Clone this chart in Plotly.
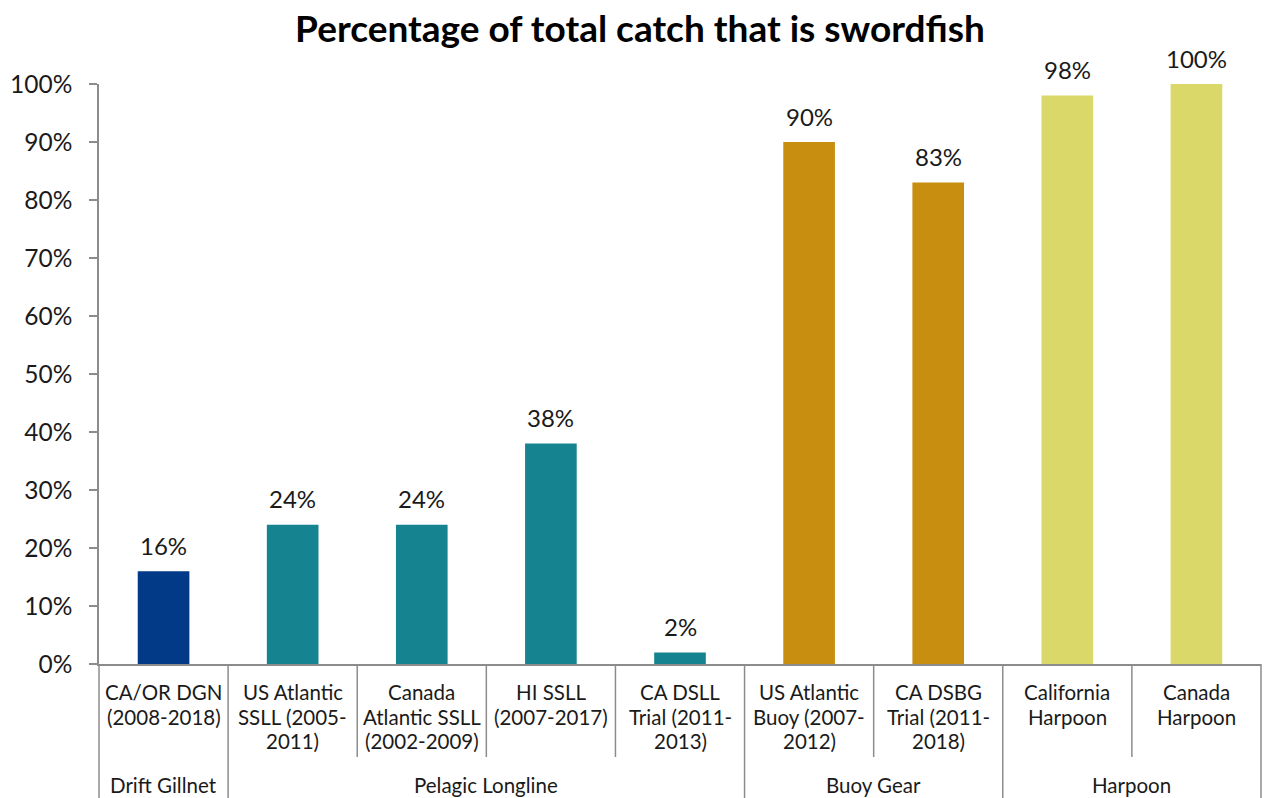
import plotly.graph_objects as go

categories = ["CA/OR DGN<br>(2008-2018)", "US Atlantic<br>SSLL (2005-<br>2011)",
              "Canada<br>Atlantic SSLL<br>(2002-2009)", "HI SSLL<br>(2007-2017)",
              "CA DSLL<br>Trial (2011-<br>2013)", "US Atlantic<br>Buoy (2007-<br>2012)",
              "CA DSBG<br>Trial (2011-<br>2018)", "California<br>Harpoon", "Canada<br>Harpoon"]
values = [16, 24, 24, 38, 2, 90, 83, 98, 100]
groups = ["Drift Gillnet", "Pelagic Longline", "Buoy Gear", "Harpoon"]
group_sizes = [1, 4, 2, 2]
group_colors = ["#023a87", "#158490", "#c88e0f", "#dbd86a"]
yticks = [0, 10, 20, 30, 40, 50, 60, 70, 80, 90, 100]

colors = []
for g, n in enumerate(group_sizes):
    colors += [group_colors[g]] * n

n = len(categories)
xs = list(range(n))
FONT = "Lato, 'Open Sans', sans-serif"
TXT = "#1a1a1a"

fig = go.Figure(go.Bar(
    x=xs, y=values, marker=dict(color=colors, line=dict(width=0)), width=0.4,
    hoverinfo="skip",
))

H_PLOT = 580.0
def yp(pix):
    return (664 - pix) / H_PLOT

shapes = []
ann = []
gline = dict(color="#8c8c8c", width=1.5)
bounds_group = set()
acc = 0
for s in group_sizes:
    acc += s
    bounds_group.add(acc)
for b in range(0, n + 1):
    xp = b / n
    full = (b == 0) or (b == n) or (b in bounds_group)
    shapes.append(dict(type="line", xref="paper", yref="paper", x0=xp, x1=xp,
                       y0=0, y1=yp(798 if full else 757), line=gline))

# data labels
for x, v in zip(xs, values):
    ann.append(dict(x=x, y=v, xref="x", yref="y", text=f"{v}%", showarrow=False,
                    yanchor="middle", xanchor="center", yshift=26,
                    font=dict(size=24, color=TXT, family=FONT)))

# category labels, line by line
for i, c in enumerate(categories):
    for k, line in enumerate(c.split("<br>")):
        ann.append(dict(x=(i + 0.5) / n, y=yp(692 + 24.5 * k), xref="paper", yref="paper",
                        text=line, showarrow=False, yanchor="middle", xanchor="center",
                        font=dict(size=20.5, color=TXT, family=FONT)))
start = 0
for g, s in zip(groups, group_sizes):
    ann.append(dict(x=(start + s / 2) / n, y=yp(785), xref="paper", yref="paper", text=g,
                    showarrow=False, yanchor="middle", xanchor="center",
                    font=dict(size=20.5, color=TXT, family=FONT)))
    start += s

fig.update_layout(
    width=1265, height=798,
    margin=dict(l=99, r=4, t=84, b=134),
    paper_bgcolor="white", plot_bgcolor="white",
    title=dict(text="<b>Percentage of total catch that is swordfish</b>", x=640 / 1265, xanchor="center",
               y=1 - 29 / 798, yanchor="middle", font=dict(size=37, color="black", family=FONT)),
    xaxis=dict(range=[-0.5, n - 0.5], showticklabels=False, ticks="", showgrid=False,
               zeroline=False, showline=True, linecolor="#8c8c8c", linewidth=1.5, fixedrange=True),
    yaxis=dict(range=[0, 100], tickvals=yticks, ticktext=[f"{t}%" for t in yticks],
               ticks="outside", ticklen=8, tickcolor="#8c8c8c", tickwidth=1.5,
               showline=True, linecolor="#8c8c8c", linewidth=1.5, showgrid=False, zeroline=False,
               tickfont=dict(size=24.5, color=TXT, family=FONT), ticklabelstandoff=12),
    shapes=shapes, annotations=ann, showlegend=False, bargap=0.6,
)

fig.write_html("out.html")
